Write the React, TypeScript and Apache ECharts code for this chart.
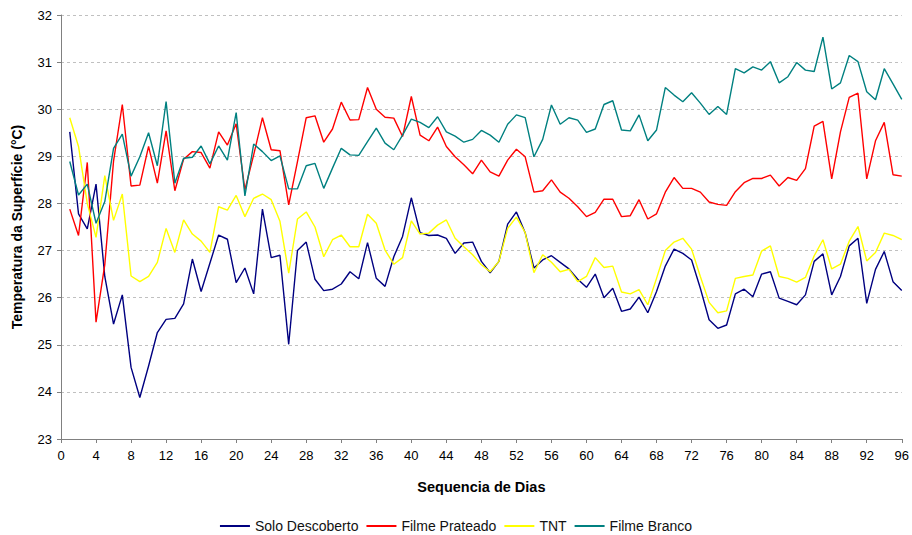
import React, { useEffect, useRef } from "react";
import * as echarts from "echarts";

const days: number[] = Array.from({ length: 96 }, (_, i) => i + 1);

const soloDescoberto = [
  29.52, 27.78, 27.46, 28.41, 26.45, 25.44, 26.06, 24.52, 23.88, 24.55, 25.26, 25.54,
  25.56, 25.87, 26.82, 26.13, 26.73, 27.33, 27.24, 26.32, 26.63, 26.08, 27.88, 26.85,
  26.9, 25.01, 27.0, 27.18, 26.39, 26.15, 26.18, 26.29, 26.55, 26.4, 27.17, 26.41,
  26.24, 26.87, 27.3, 28.12, 27.38, 27.32, 27.33, 27.26, 26.94, 27.16, 27.18, 26.77,
  26.53, 26.77, 27.56, 27.82, 27.38, 26.63, 26.8, 26.89, 26.75, 26.61, 26.39, 26.22,
  26.5, 26.0, 26.2, 25.71, 25.76, 26.01, 25.68, 26.13, 26.67, 27.03, 26.94, 26.8,
  26.2, 25.53, 25.35, 25.42, 26.08, 26.18, 26.02, 26.5, 26.55, 25.99, 25.92, 25.85,
  26.06, 26.77, 26.93, 26.06, 26.45, 27.1, 27.26, 25.88, 26.6, 26.98, 26.34, 26.15,
];

const filmePrateado = [
  27.88, 27.32, 28.87, 25.48, 26.7, 28.9, 30.1, 28.37, 28.39, 29.21, 28.43, 29.54,
  28.27, 28.94, 29.1, 29.08, 28.75, 29.52, 29.24, 29.69, 28.29, 29.03, 29.82, 29.14,
  29.12, 27.97, 28.89, 29.82, 29.86, 29.3, 29.58, 30.15, 29.77, 29.78, 30.46, 30.0,
  29.83, 29.81, 29.42, 30.27, 29.45, 29.33, 29.62, 29.21, 28.99, 28.82, 28.63, 28.92,
  28.67, 28.58, 28.92, 29.15, 28.99, 28.24, 28.27, 28.5, 28.24, 28.11, 27.93, 27.72,
  27.81, 28.09, 28.09, 27.72, 27.74, 28.08, 27.67, 27.78, 28.24, 28.55, 28.32, 28.32,
  28.24, 28.03, 27.98, 27.96, 28.25, 28.44, 28.53, 28.53, 28.6, 28.37, 28.55, 28.49,
  28.74, 29.64, 29.74, 28.52, 29.52, 30.25, 30.34, 28.52, 29.33, 29.72, 28.61, 28.58,
];

const tnt = [
  29.82, 29.21, 28.0, 27.28, 28.59, 27.64, 28.2, 26.46, 26.34, 26.45, 26.75, 27.47,
  26.96, 27.65, 27.35, 27.2, 26.96, 27.93, 27.86, 28.17, 27.72, 28.11, 28.2, 28.08,
  27.62, 26.52, 27.67, 27.82, 27.5, 26.87, 27.23, 27.33, 27.08, 27.08, 27.77, 27.58,
  27.01, 26.71, 26.85, 27.63, 27.35, 27.37, 27.54, 27.65, 27.26, 27.08, 26.91, 26.7,
  26.55, 26.77, 27.47, 27.71, 27.38, 26.53, 26.91, 26.75, 26.55, 26.6, 26.34, 26.45,
  26.85, 26.64, 26.67, 26.12, 26.08, 26.17, 25.85, 26.41, 27.0, 27.18, 27.26, 27.03,
  26.45, 25.9, 25.68, 25.72, 26.41, 26.45, 26.48, 26.99, 27.1, 26.45, 26.41, 26.33,
  26.43, 26.89, 27.23, 26.61, 26.71, 27.2, 27.51, 26.78, 26.96, 27.37, 27.32, 27.23,
];

const filmeBranco = [
  28.89, 28.18, 28.41, 27.58, 28.04, 29.17, 29.47, 28.58, 28.99, 29.5, 28.8, 30.16,
  28.43, 28.96, 28.98, 29.22, 28.84, 29.22, 28.92, 29.93, 28.16, 29.26, 29.1, 28.91,
  29.01, 28.31, 28.31, 28.8, 28.85, 28.32, 28.75, 29.17, 29.03, 29.02, 29.31, 29.6,
  29.28, 29.14, 29.45, 29.79, 29.72, 29.61, 29.84, 29.52, 29.43, 29.3, 29.36, 29.55,
  29.45, 29.3, 29.68, 29.88, 29.82, 28.99, 29.36, 30.09, 29.68, 29.82, 29.77, 29.51,
  29.58, 30.1, 30.18, 29.56, 29.54, 29.88, 29.33, 29.56, 30.46, 30.3, 30.16, 30.35,
  30.13, 29.89, 30.06, 29.89, 30.86, 30.77, 30.9, 30.83, 31.01, 30.56, 30.69, 30.99,
  30.83, 30.8, 31.53, 30.43, 30.56, 31.14, 31.01, 30.37, 30.2, 30.86, 30.54, 30.21,
];

const seriesNames = ["Solo Descoberto", "Filme Prateado", "TNT", "Filme Branco"];
const seriesColors = ["#000080", "#FF0000", "#FFFF00", "#008080"];
const seriesValues = [soloDescoberto, filmePrateado, tnt, filmeBranco];

const FONT = "Liberation Sans, Arial, sans-serif";

export default function App() {
  const ref = useRef<HTMLDivElement>(null);
  useEffect(() => {
    if (!ref.current) return;
    const chart = echarts.init(ref.current, undefined, { renderer: "svg" });
    chart.setOption({
      animation: false,
      backgroundColor: "#ffffff",
      textStyle: { fontFamily: FONT },
      grid: { left: 61, right: 9, top: 15, bottom: 96, containLabel: false },
      legend: {
        top: 518,
        left: "center",
        padding: 0,
        icon: "rect",
        itemWidth: 30,
        itemHeight: 2,
        itemGap: 8,
        textStyle: { fontSize: 14, color: "#111", fontFamily: FONT, lineHeight: 16 },
        data: seriesNames,
      },
      xAxis: {
        type: "value",
        min: 0,
        max: 96,
        interval: 4,
        name: "Sequencia de Dias",
        nameLocation: "middle",
        nameGap: 40,
        nameTextStyle: { fontSize: 14.5, fontWeight: "bold", color: "#000", fontFamily: FONT },
        axisLine: { show: true, onZero: false, lineStyle: { color: "#808080", width: 1 } },
        axisTick: { show: true, length: 4, lineStyle: { color: "#808080" } },
        axisLabel: { fontSize: 13, color: "#000", margin: 10, fontFamily: FONT },
        splitLine: { show: false },
      },
      yAxis: {
        type: "value",
        min: 23,
        max: 32,
        interval: 1,
        name: "Temperatura da Superfície (°C)",
        nameLocation: "middle",
        nameGap: 37,
        nameTextStyle: { fontSize: 14, fontWeight: "bold", color: "#000", fontFamily: FONT },
        axisLine: { show: true, lineStyle: { color: "#808080", width: 1 } },
        axisTick: { show: true, length: 4, lineStyle: { color: "#808080" } },
        axisLabel: { fontSize: 13, color: "#000", margin: 9, fontFamily: FONT },
        splitLine: { show: true, lineStyle: { color: "#c0c0c0", type: [3, 3], width: 1 } },
      },
      series: seriesNames.map((name, i) => ({
        name,
        type: "line",
        symbol: "none",
        color: seriesColors[i],
        lineStyle: { width: 1.4, color: seriesColors[i] },
        data: days.map((d, j) => [d, seriesValues[i][j]]),
      })),
    });
    return () => chart.dispose();
  }, []);
  return <div ref={ref} style={{ width: 912, height: 535, position: "absolute", left: 0, top: 0 }} />;
}
